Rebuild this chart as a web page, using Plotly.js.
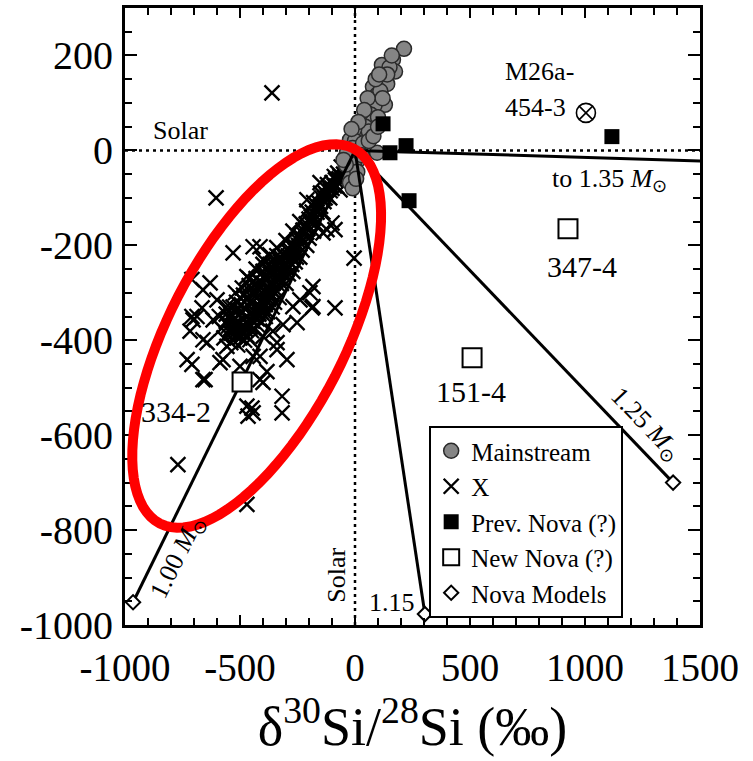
<!DOCTYPE html>
<html>
<head>
<meta charset="utf-8">
<script src="https://cdn.plot.ly/plotly-3.0.1.min.js"></script>
<style>
  html, body { margin: 0; padding: 0; background: #fff; }
  #chart { width: 753px; height: 761px; }
</style>
</head>
<body>
<div id="chart"></div>
<script>
// Silicon isotope ratios of presolar SiC grains (delta values in permil)

// Axis tick labels (plain hyphen minus, as typeset)
const xTickVals = [-1000, -500, 0, 500, 1000, 1500];
const xTickText = ['-1000', '-500', '0', '500', '1000', '1500'];
const yTickVals = [-1000, -800, -600, -400, -200, 0, 200];
const yTickText = ['-1000', '-800', '-600', '-400', '-200', '0', '200'];

// Mainstream grains
const mainX = [213,165,174,117,150,122,140,78,96,110,130,65,85,52,70,30,78,45,9,25,52,-22,0,-10,-35,20,96,13,-5,-22,-22,10,-40,35,60,100,120,140,90,160,105,55,40,15,-15,-50,-10,5,30,60,80,100];
const mainY = [214,191,166,180,175,149,140,134,117,125,96,100,95,79,75,58,61,50,37,40,29,22,20,5,-5,0,-5,-20,-30,-55,-68,-45,-30,15,40,70,110,160,150,200,160,110,85,60,45,-20,-80,-60,-10,20,30,50];

// X grains
const xGrainX = [
  -25,-40,-48,-60,-65,-75,-85,-90,-100,-108,-115,-122,-130,-135,-145,-150,-158,-165,-172,-180,
  -186,-192,-200,-205,-212,-220,-226,-232,-240,-246,-252,-258,-265,-270,-278,-284,-290,-296,-304,-310,
  -318,-324,-330,-336,-344,-350,-356,-362,-370,-376,-384,-390,-398,-404,-410,-418,-425,-432,-440,-446,
  -455,-462,-470,-478,-486,-494,-505,-515,-528,-540,
  -330,-360,-390,-420,-450,-480,-510,-540,-560,-520,-490,-460,-430,-400,-370,-340,-300,-270,-240,-210,
  -180,-150,-120,-90,-350,-380,-410,-440,-470,-500,-530,-300,-270,-240,-210,-180,-560,-580,-590,-570,
  -290,-320,-350,-380,-410,-440,-470,-500,-520,-550,-310,-340,-370,-400,-430,-460,-490,-520,-545,-500,
  -280,-250,-220,-190,-160,-130,-100,-70,-50,-35,-260,-230,-200,-170,-140,-110,-80,
  -450,-420,-390,-360,-330,-480,-510,-540,-460,-430,-400,-370,-340,
  -560,-545,-530,-515,-505,-495,-485,-475,-465,-455,-445,-435,-425,-415,-405,-395,-385,-375,-365,-355,
  -345,-335,-325,-315,-305,-295,-285,-275,-265,-255,
  -540,-525,-510,-490,-475,-455,-440,-425,-410,-395,-380,-365,
  -361,-604,-530,-4,-87,-87,-139,-709,-661,-687,-600,-183,-196,-239,-443,-400,-630,-730,-652,-413,
  -296,-339,-400,-643,-574,-443,-252,-183,-122,-100,-413,-470,-326,-65,-152,-209,-709,-665,-717,-617,
  -661,-530,-557,-457,-357,-313,-270,-187,-413,-500,-587,-383,-339,-400,-317,-317,-470,-443,-465,-448,
  -709,-661,-770,-470,-704
];
const xGrainY = [
  -15,-22,-40,-35,-55,-48,-62,-75,-68,-85,-78,-95,-90,-108,-100,-118,-110,-130,-122,-140,
  -130,-152,-145,-165,-155,-178,-168,-190,-180,-200,-188,-212,-200,-225,-212,-235,-222,-248,-236,-258,
  -245,-270,-258,-282,-268,-292,-280,-304,-290,-314,-300,-325,-310,-334,-320,-345,-330,-352,-338,-360,
  -345,-365,-350,-372,-356,-378,-362,-380,-368,-385,
  -230,-250,-265,-285,-300,-320,-335,-345,-330,-300,-290,-270,-250,-240,-220,-205,-190,-170,-150,-128,
  -110,-90,-72,-55,-320,-340,-360,-375,-390,-395,-400,-280,-255,-225,-200,-170,-360,-375,-350,-395,
  -260,-280,-300,-320,-340,-350,-365,-375,-390,-370,-220,-240,-260,-280,-300,-320,-340,-355,-330,-310,
  -200,-180,-160,-140,-120,-100,-80,-60,-50,-30,-235,-210,-185,-155,-130,-100,-75,
  -380,-370,-350,-330,-310,-400,-410,-405,-285,-270,-255,-240,-222,
  -345,-355,-330,-320,-345,-325,-305,-335,-310,-290,-320,-285,-310,-275,-300,-270,-290,-250,-280,-260,
  -245,-270,-235,-260,-225,-250,-215,-240,-205,-225,
  -375,-385,-368,-385,-378,-372,-345,-355,-330,-340,-300,-310,
  121,-100,-216,-227,-332,-167,-174,-272,-294,-350,-315,-329,-300,-315,-203,-230,-279,-441,-483,-483,
  -441,-405,-392,-405,-441,-434,-363,-287,-167,-153,-203,-266,-224,-83,-68,-104,-350,-332,-381,-357,
  -399,-357,-413,-399,-381,-367,-329,-332,-434,-455,-447,-466,-420,-489,-518,-553,-539,-553,-560,-543,
  -451,-483,-662,-746,-357
];

// Previously identified nova candidates
const prevNovaX = [1117,122,152,222,235];
const prevNovaY = [29,56,-5,10,-106];

// New nova candidates
const newNovaNames = ['347-4','151-4','334-2'];
const newNovaX = [926,509,-491];
const newNovaY = [-165,-437,-488];

// Grain M26a-454-3
const m26X = [1004];
const m26Y = [79];

// Nova model compositions (1.00, 1.15, 1.25, 1.35 solar masses)
const modelNames = ['1.00','1.15','1.25','1.35'];
const modelX = [-965,304,1383,2300];
const modelY = [-952,-977,-700,-34];

// Solar composition, start of every mixing line
const solarX = 0;
const solarY = 0;

const FONT = 'Liberation Serif, Times New Roman, serif';
const traces = [];

traces.push({
  type: 'scatter', mode: 'markers', name: 'X', legendrank: 2,
  x: xGrainX, y: xGrainY,
  marker: {symbol: 'x-thin-open', size: 15, color: '#000', line: {width: 2.4, color: '#000'}}
});

traces.push({
  type: 'scatter', mode: 'markers', name: 'Mainstream', legendrank: 1,
  x: mainX, y: mainY,
  marker: {symbol: 'circle', size: 15, color: '#858585', line: {width: 1.5, color: '#2a2a2a'}}
});

// Mixing lines between solar and each nova model
modelX.forEach((mx, i) => {
  traces.push({
    type: 'scatter', mode: 'lines', showlegend: false, hoverinfo: 'skip',
    x: [solarX, mx], y: [solarY, modelY[i]],
    line: {color: '#000', width: 3}
  });
});

traces.push({
  type: 'scatter', mode: 'markers', name: 'Prev. Nova (?)', legendrank: 3,
  x: prevNovaX, y: prevNovaY,
  marker: {symbol: 'square', size: 15, color: '#000', line: {width: 0}}
});

traces.push({
  type: 'scatter', mode: 'markers', name: 'New Nova (?)', legendrank: 4,
  x: newNovaX, y: newNovaY, text: newNovaNames,
  marker: {symbol: 'square', size: 19, color: '#fff', line: {width: 2, color: '#000'}}
});

traces.push({
  type: 'scatter', mode: 'markers', name: 'Nova Models', legendrank: 5,
  x: modelX, y: modelY, text: modelNames,
  marker: {symbol: 'diamond', size: 11, color: '#fff', line: {width: 2, color: '#000'}}
});

traces.push({
  type: 'scatter', mode: 'markers', showlegend: false,
  x: m26X, y: m26Y,
  marker: {symbol: 'circle-x-open', size: 19, color: '#000', line: {width: 1.6, color: '#000'}}
});

// Highlight ellipse around the X-grain cluster (paper coordinates)
function ellipsePath(cx, cy, a, b, deg, w, h) {
  const th = deg * Math.PI / 180;
  let d = '';
  for (let k = 0; k <= 96; k++) {
    const t = 2 * Math.PI * k / 96;
    const px = a * Math.cos(t) * Math.cos(th) - b * Math.sin(t) * Math.sin(th);
    const py = a * Math.cos(t) * Math.sin(th) + b * Math.sin(t) * Math.cos(th);
    d += (k === 0 ? 'M' : 'L') + (cx + px / w).toFixed(5) + ',' + (cy + py / h).toFixed(5);
  }
  return d + 'Z';
}

const plotW = 575, plotH = 617;

const ann = (text, x, y, opts) => Object.assign({
  text: text, x: x, y: y, xref: 'x', yref: 'y', showarrow: false,
  font: {family: FONT, size: 26, color: '#000'}
}, opts || {});

const layout = {
  width: 753, height: 761,
  margin: {l: 125, r: 53, t: 8, b: 136},
  paper_bgcolor: '#fff', plot_bgcolor: '#fff',
  font: {family: FONT, color: '#000'},
  showlegend: true,
  legend: {
    x: 0.529, y: 0.3225, xanchor: 'left', yanchor: 'top',
    bgcolor: '#fff', bordercolor: '#000', borderwidth: 2,
    font: {family: FONT, size: 25, color: '#000'},
    tracegroupgap: 0, itemwidth: 30
  },
  xaxis: {
    range: [-1000, 1500], tickmode: 'array', tickvals: xTickVals, ticktext: xTickText,
    ticks: 'inside', ticklen: 10, tickwidth: 2, tickcolor: '#000',
    minor: {dtick: 100, tick0: 0, ticks: 'inside', ticklen: 7, tickwidth: 2, tickcolor: '#000'},
    showline: true, linewidth: 3, linecolor: '#000', mirror: 'allticks',
    showgrid: false, zeroline: false, automargin: false,
    tickfont: {family: FONT, size: 39, color: '#000'},
    ticklabelstandoff: 6,
    title: {text: 'δ<sup>30</sup>Si/<sup>28</sup>Si (‰)', font: {family: FONT, size: 54, color: '#000'}, standoff: 20}
  },
  yaxis: {
    range: [-1000, 300], tickmode: 'array', tickvals: yTickVals, ticktext: yTickText,
    ticks: 'inside', ticklen: 12, tickwidth: 2, tickcolor: '#000',
    minor: {dtick: 50, tick0: 0, ticks: 'inside', ticklen: 7, tickwidth: 2, tickcolor: '#000'},
    showline: true, linewidth: 3, linecolor: '#000', mirror: 'allticks',
    showgrid: false, zeroline: false, automargin: false,
    tickfont: {family: FONT, size: 40, color: '#000'},
    ticklabelstandoff: 1
  },
  shapes: [
    {type: 'line', xref: 'x', yref: 'paper', x0: solarX, x1: solarX, y0: 0, y1: 1,
     line: {color: '#000', width: 2.5, dash: '3px,4px'}, layer: 'below'},
    {type: 'line', xref: 'paper', yref: 'y', x0: 0, x1: 1, y0: solarY, y1: solarY,
     line: {color: '#000', width: 2.5, dash: '3px,4px'}, layer: 'below'},
    {type: 'path', xref: 'paper', yref: 'paper', layer: 'above',
     path: ellipsePath(0.2290, 0.4684, 211, 88, 62.7, plotW, plotH),
     line: {color: '#ff0000', width: 10}, fillcolor: 'rgba(0,0,0,0)'}
  ],
  annotations: [
    ann('Solar', -757, 41),
    ann('Solar', -78, -896, {textangle: -90}),
    ann('M26a-', 643, 166, {xanchor: 'left'}),
    ann('454-3', 643, 90, {xanchor: 'left'}),
    ann('to 1.35 <i>M</i><sub>⊙</sub>', 848, -62, {xanchor: 'left'}),
    ann('347-4', newNovaX[0] + 60, newNovaY[0] - 80, {font: {family: FONT, size: 30, color: '#000'}}),
    ann('151-4', newNovaX[1] - 5, newNovaY[1] - 71, {font: {family: FONT, size: 30, color: '#000'}}),
    ann('334-2', -778, -551, {font: {family: FONT, size: 30, color: '#000'}}),
    ann('1.00 <i>M</i><sub>⊙</sub>', -770, -856, {textangle: -63.6}),
    ann('1.25 <i>M</i><sub>⊙</sub>', 1265, -578, {textangle: 46.3}),
    ann('1.15', 161, -952)
  ]
};

Plotly.newPlot('chart', traces, layout, {staticPlot: true, displayModeBar: false});
</script>
</body>
</html>
